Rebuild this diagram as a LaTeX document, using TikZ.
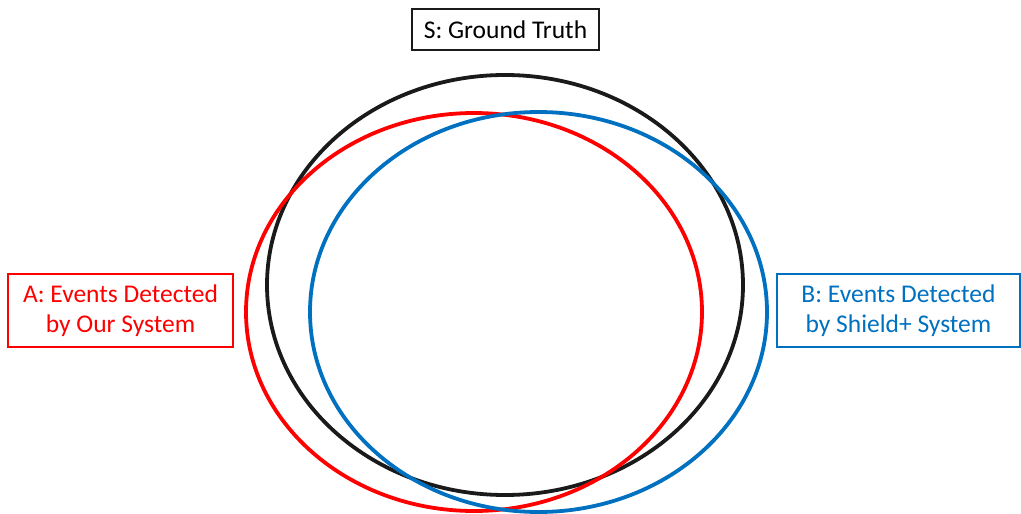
\documentclass[tikz,border=0pt]{standalone}
\usepackage{fontspec}
\setmainfont{Carlito}
\definecolor{myred}{HTML}{FF0000}
\definecolor{myblue}{HTML}{0070C0}
\definecolor{myblack}{HTML}{1A1A1A}
\tikzset{
  setring/.style={line width=3.8pt},
  labelbox/.style={draw, line width=1.4pt, inner sep=0pt, align=center,
    font=\fontsize{25.5}{30}\selectfont},
}
\begin{document}
\begin{tikzpicture}[x=1pt,y=-1pt]
\useasboundingbox (0,0) rectangle (1021,514);
\draw[setring, myblack] (505,285) ellipse [x radius=238, y radius=210];
\draw[setring, myred] (474,312) ellipse [x radius=228, y radius=199];
\draw[setring, myblue] (538.5,312) ellipse [x radius=228.5, y radius=200];
\node[labelbox, draw=myblack, text=black, minimum width=187pt, minimum height=41pt] (S) at (505.5,29.5) {S: Ground Truth};
\node[labelbox, draw=myred, text=myred, minimum width=225pt, minimum height=73pt] (A) at (120.5,310.5) {A: Events Detected\\by Our System};
\node[labelbox, draw=myblue, text=myblue, minimum width=243pt, minimum height=73pt] (B) at (898.5,310.5) {B: Events Detected\\by Shield+ System};
\end{tikzpicture}
\end{document}
